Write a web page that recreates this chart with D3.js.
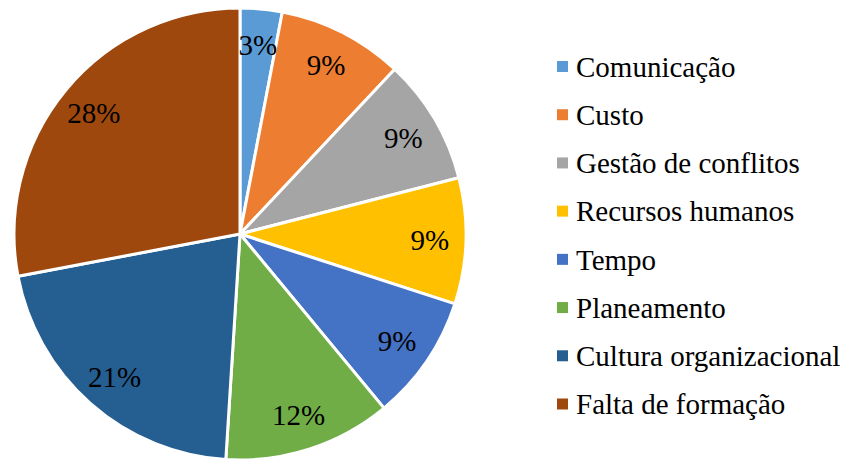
<!DOCTYPE html>
<html>
<head>
<meta charset="utf-8">
<script src="https://cdn.jsdelivr.net/npm/d3@7"></script>
<style>
  body { margin: 0; background: #fff; }
</style>
</head>
<body>
<div id="chart"></div>
<script>
var categories = ["Comunicação", "Custo", "Gestão de conflitos", "Recursos humanos",
  "Tempo", "Planeamento", "Cultura organizacional", "Falta de formação"]
var values = [3, 9, 9, 9, 9, 12, 21, 28]
var colors = ["#5B9BD5", "#ED7D31", "#A5A5A5", "#FFC000", "#4472C4", "#70AD47", "#255E91", "#9E480E"]

var width = 848, height = 459
var cx = 240, cy = 234, radius = 226
var serif = "Liberation Serif"

var svg = d3.select("#chart")
  .append("svg")
  .attr("width", width)
  .attr("height", height)

var pie = d3.pie().sort(null).value(function(d) { return d })
var arcs = pie(values)

var arc = d3.arc().innerRadius(0).outerRadius(radius)
var labelArc = d3.arc().innerRadius(radius * 0.84).outerRadius(radius * 0.84)

var g = svg.append("g").attr("transform", "translate(" + cx + "," + cy + ")")

g.selectAll(".slice")
  .data(arcs)
  .enter().append("path")
  .attr("class", "slice")
  .attr("d", arc)
  .style("fill", function(d, i) { return colors[i] })
  .style("stroke", "#fff")
  .style("stroke-width", 3)
  .style("stroke-linejoin", "round")

// percent labels near the outer edge
g.selectAll(".lbl")
  .data(arcs)
  .enter().append("text")
  .attr("class", "lbl")
  .attr("transform", function(d) { return "translate(" + labelArc.centroid(d) + ")" })
  .attr("text-anchor", "middle")
  .attr("dy", "0.35em")
  .attr("font-family", serif)
  .attr("font-size", 29)
  .attr("fill", "#000")
  .text(function(d) { return d.value + "%" })

// legend
var ly = d3.scalePoint().domain(categories).range([66.5, 404]).padding(0)

var leg = svg.selectAll(".leg")
  .data(categories)
  .enter().append("g")
  .attr("class", "leg")
  .attr("transform", function(d) { return "translate(557," + ly(d) + ")" })

leg.append("rect")
  .attr("x", 0)
  .attr("y", -5.5)
  .attr("width", 11)
  .attr("height", 11)
  .style("fill", function(d, i) { return colors[i] })

leg.append("text")
  .attr("x", 19)
  .attr("dy", "0.35em")
  .attr("font-family", serif)
  .attr("font-size", 29)
  .attr("fill", "#000")
  .text(function(d) { return d })
</script>
</body>
</html>
